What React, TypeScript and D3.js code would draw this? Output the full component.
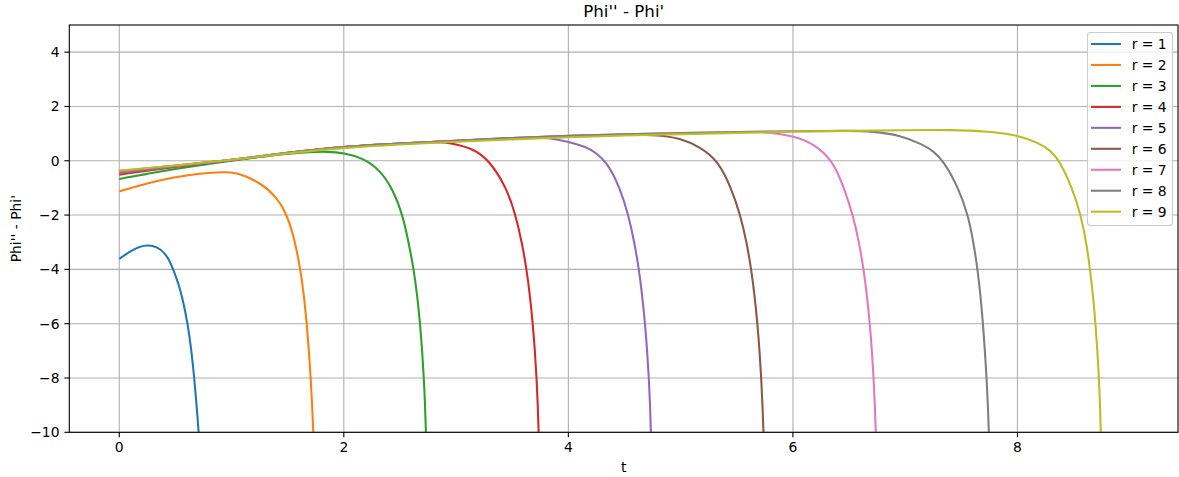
import * as d3 from "d3";

// [t, Phi'' - Phi'] pairs
const r1 = [[0, -3.61], [0.1, -3.33], [0.18, -3.16], [0.258, -3.1], [0.34, -3.18], [0.4, -3.38], [0.445, -3.65], [0.481, -4.0], [0.525, -4.5], [0.56, -5.0], [0.61, -6.0], [0.643, -7.0], [0.668, -8.0], [0.689, -9.0], [0.707, -10]];
const r2 = [[0, -1.13], [0.2, -0.88], [0.4, -0.68], [0.6, -0.53], [0.8, -0.44], [0.94, -0.41], [1.05, -0.45], [1.134, -0.58], [1.253, -0.83], [1.33, -1.07], [1.401, -1.38], [1.45, -1.68], [1.49, -2.02], [1.53, -2.45], [1.565, -3.0], [1.614, -4.0], [1.646, -5.0], [1.67, -6.0], [1.689, -7.0], [1.705, -8.0], [1.718, -9.0], [1.728, -10]];
const r3 = [[0, -0.67], [0.25, -0.48], [0.5, -0.3], [0.75, -0.14], [1.0, 0.0], [1.25, 0.14], [1.5, 0.26], [1.7, 0.32], [1.85, 0.34], [2.0, 0.29], [2.17, 0.1], [2.32, -0.33], [2.44, -1.07], [2.524, -2.0], [2.577, -3.0], [2.623, -4.0], [2.655, -5.0], [2.679, -6.0], [2.698, -7.0], [2.713, -8.0], [2.724, -9.0], [2.731, -10]];
const r4 = [[0, -0.51], [0.5, -0.22], [1.0, 0.01], [1.5, 0.29], [2.0, 0.52], [2.5, 0.63], [2.85, 0.7], [2.95, 0.65], [3.15, 0.46], [3.3, 0.0], [3.45, -1.0], [3.53, -2.0], [3.586, -3.0], [3.628, -4.0], [3.659, -5.0], [3.683, -6.0], [3.702, -7.0], [3.717, -8.0], [3.728, -9.0], [3.735, -10]];
const r5 = [[0, -0.45], [0.5, -0.2], [1.0, 0.02], [1.5, 0.3], [2.0, 0.53], [2.5, 0.64], [3.0, 0.74], [3.5, 0.83], [3.75, 0.86], [3.9, 0.8], [4.1, 0.59], [4.19, 0.46], [4.34, 0.0], [4.46, -1.0], [4.535, -2.0], [4.588, -3.0], [4.629, -4.0], [4.659, -5.0], [4.683, -6.0], [4.702, -7.0], [4.717, -8.0], [4.728, -9.0], [4.735, -10]];
const r6 = [[0, -0.42], [0.5, -0.19], [1.0, 0.02], [1.5, 0.3], [2.0, 0.53], [2.5, 0.64], [3.0, 0.74], [3.5, 0.84], [4.0, 0.92], [4.5, 0.97], [4.815, 0.95], [4.99, 0.83], [5.17, 0.52], [5.334, 0.0], [5.45, -1.0], [5.532, -2.0], [5.588, -3.0], [5.629, -4.0], [5.66, -5.0], [5.684, -6.0], [5.703, -7.0], [5.718, -8.0], [5.729, -9.0], [5.738, -10]];
const r7 = [[0, -0.4], [0.5, -0.18], [1.0, 0.02], [1.5, 0.3], [2.0, 0.53], [2.5, 0.64], [3.0, 0.74], [3.5, 0.84], [4.0, 0.92], [4.5, 0.98], [5.0, 1.02], [5.5, 1.06], [5.8, 1.06], [6.0, 0.91], [6.18, 0.65], [6.358, 0.0], [6.455, -1.0], [6.535, -2.0], [6.589, -3.0], [6.63, -4.0], [6.661, -5.0], [6.685, -6.0], [6.704, -7.0], [6.719, -8.0], [6.73, -9.0], [6.738, -10]];
const r8 = [[0, -0.38], [0.5, -0.18], [1.0, 0.02], [1.5, 0.3], [2.0, 0.53], [2.5, 0.64], [3.0, 0.74], [3.5, 0.84], [4.0, 0.92], [4.5, 0.98], [5.0, 1.02], [5.5, 1.06], [6.0, 1.09], [6.5, 1.11], [6.71, 1.08], [6.95, 0.95], [7.16, 0.59], [7.25, 0.36], [7.34, 0.0], [7.475, -1.0], [7.56, -2.0], [7.608, -3.0], [7.645, -4.0], [7.672, -5.0], [7.693, -6.0], [7.71, -7.0], [7.725, -8.0], [7.737, -9.0], [7.745, -10]];
const r9 = [[0, -0.36], [0.5, -0.18], [1.0, 0.03], [1.5, 0.28], [2.0, 0.48], [2.5, 0.6], [3.0, 0.7], [3.5, 0.79], [4.0, 0.87], [4.5, 0.93], [5.0, 0.98], [5.5, 1.03], [6.0, 1.07], [6.5, 1.1], [7.0, 1.13], [7.4, 1.14], [7.75, 1.08], [8.0, 0.95], [8.19, 0.65], [8.29, 0.4], [8.376, 0.0], [8.487, -1.0], [8.565, -2.0], [8.613, -3.0], [8.647, -4.0], [8.674, -5.0], [8.695, -6.0], [8.712, -7.0], [8.726, -8.0], [8.736, -9.0], [8.742, -10]];

const seriesData = [r1, r2, r3, r4, r5, r6, r7, r8, r9];
const seriesNames = ["r = 1", "r = 2", "r = 3", "r = 4", "r = 5", "r = 6", "r = 7", "r = 8", "r = 9"];
const colors = ["#1f77b4", "#ff7f0e", "#2ca02c", "#d62728", "#9467bd", "#8c564b", "#e377c2", "#7f7f7f", "#bcbd22"];
const xTicks = [0, 2, 4, 6, 8];
const yTicks = [4, 2, 0, -2, -4, -6, -8, -10];

const W = 1179;
const H = 477;
const left = 69.3;
const right = 1178;
const top = 25;
const bottom = 432.3;
const font = "DejaVu Sans, sans-serif";

export default function App() {
  const x = d3.scaleLinear().domain([-0.445, 9.43]).range([left, right]);
  const y = d3.scaleLinear().domain([-10, 5]).range([bottom, top]);
  // B-spline smooths out small reading errors between the picked points
  const line = d3
    .line<number[]>()
    .x((d) => x(d[0]))
    .y((d) => y(d[1]))
    .curve(d3.curveBasis);
  const fmt = (v: number) => (v < 0 ? "\u2212" + Math.abs(v) : String(v));

  const legX = 1087.5;
  const legY = 32.5;
  const rowH = 20.96;

  return (
    <svg
      width={W}
      height={H}
      style={{ position: "absolute", left: 0, top: 0, background: "#fff" }}
      fontFamily={font}
    >
      <defs>
        <clipPath id="plot-area">
          <rect x={left} y={top} width={right - left} height={bottom - top} />
        </clipPath>
      </defs>
      <rect x={0} y={0} width={W} height={H} fill="#fff" />

      {/* grid */}
      <g stroke="#b0b0b0" strokeWidth={1.1}>
        {xTicks.map((t) => (
          <line key={"gx" + t} x1={x(t)} x2={x(t)} y1={top} y2={bottom} />
        ))}
        {yTicks.map((t) => (
          <line key={"gy" + t} x1={left} x2={right} y1={y(t)} y2={y(t)} />
        ))}
      </g>

      {/* curves */}
      <g clipPath="url(#plot-area)" fill="none" strokeWidth={2.08} strokeLinejoin="round">
        {seriesData.map((s, i) => (
          <path key={i} d={line(s) || ""} stroke={colors[i]} />
        ))}
      </g>

      {/* spines */}
      <rect
        x={left}
        y={top}
        width={right - left}
        height={bottom - top}
        fill="none"
        stroke="#000"
        strokeWidth={1.1}
      />

      {/* x axis */}
      {xTicks.map((t) => (
        <g key={"xt" + t}>
          <line x1={x(t)} x2={x(t)} y1={bottom} y2={bottom + 4.9} stroke="#000" strokeWidth={1.1} />
          <text x={x(t)} y={bottom + 19.8} fontSize={13.9} textAnchor="middle" fill="#000">
            {fmt(t)}
          </text>
        </g>
      ))}
      {/* y axis */}
      {yTicks.map((t) => (
        <g key={"yt" + t}>
          <line x1={left - 4.9} x2={left} y1={y(t)} y2={y(t)} stroke="#000" strokeWidth={1.1} />
          <text x={left - 9.8} y={y(t) + 5} fontSize={13.9} textAnchor="end" fill="#000">
            {fmt(t)}
          </text>
        </g>
      ))}

      <text x={(left + right) / 2} y={472} fontSize={13.9} textAnchor="middle" fill="#000">
        t
      </text>
      <text
        transform={`translate(20.5, ${(top + bottom) / 2}) rotate(-90)`}
        fontSize={13.9}
        textAnchor="middle"
        fill="#000"
      >
        Phi'' - Phi'
      </text>
      <text x={(left + right) / 2} y={16.8} fontSize={16.7} textAnchor="middle" fill="#000">
        Phi'' - Phi'
      </text>

      {/* legend */}
      <rect
        x={legX}
        y={legY}
        width={85}
        height={193}
        rx={3}
        fill="#fff"
        fillOpacity={0.8}
        stroke="#cccccc"
        strokeWidth={1.1}
      />
      {seriesNames.map((name, i) => {
        const cy = 44 + i * rowH;
        return (
          <g key={name}>
            <line x1={1091} x2={1121} y1={cy} y2={cy} stroke={colors[i]} strokeWidth={2.08} />
            <text x={1131.7} y={cy + 5} fontSize={13.9} fill="#000">
              {name}
            </text>
          </g>
        );
      })}
    </svg>
  );
}
